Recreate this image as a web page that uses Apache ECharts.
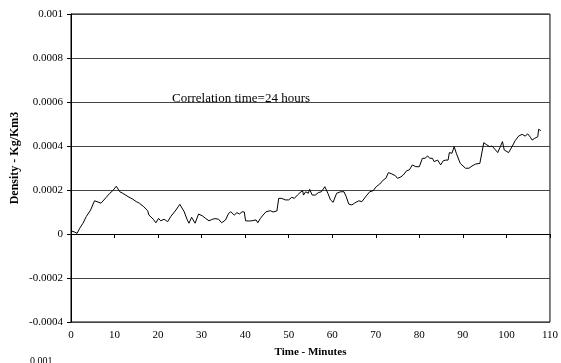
<!DOCTYPE html>
<html>
<head>
<meta charset="utf-8">
<script src="https://cdn.jsdelivr.net/npm/echarts@6/dist/echarts.min.js"></script>
<style>
html,body{margin:0;padding:0;background:#fff;}
#chart{width:561px;height:363px;}
</style>
</head>
<body>
<div id="chart"></div>
<script>
// Time in minutes
var times = [0,0.7,1.4,2.0,2.75,3.5,4.5,5.4,6.9,8.1,8.9,9.6,10.4,11.2,11.9,13.1,14.2,15.0,15.7,16.7,17.6,
  17.9,18.9,19.5,20.1,20.6,21.4,22.2,22.9,24.1,25.0,26.0,26.7,27.1,27.7,28.5,29.3,30.2,30.9,31.7,32.5,33.1,33.9,34.6,35.5,
  36.2,36.7,37.5,38.1,38.7,39.3,39.8,40.1,40.8,41.5,41.9,42.5,42.9,43.5,44.1,44.8,45.8,46.4,47.3,47.7,48.4,49.2,50.0,50.7,51.3,52.0,52.6,53.2,
  53.4,53.9,54.5,54.8,55.4,56.1,56.8,57.5,58.3,59.0,59.6,60.2,61.0,61.9,62.7,63.2,63.8,64.5,65.1,66.1,66.8,67.8,68.6,69.4,70.1,70.9,
  71.7,72.3,72.9,73.7,74.5,75.0,75.8,76.3,77.1,77.7,78.4,79.2,80.0,80.7,81.3,81.9,82.4,83.0,83.4,84.2,84.6,84.9,85.5,86.1,86.6,86.9,87.5,88.0,88.5,89.1,
  89.4,90.6,91.4,92.1,92.9,93.9,94.8,95.5,96.2,96.7,97.5,98.0,98.6,99.1,99.5,100.5,101.3,102.0,102.8,103.6,104.3,104.9,105.5,105.9,106.5,107.2,107.4,107.9];
// Density in Kg/Km3
var density = [0.000014,0.00001,0.000003,0.000026,0.000049,0.000079,0.000109,0.000151,0.00014,0.000167,0.000185,0.000197,0.000217,0.000192,0.000185,0.00017,0.000158,0.000147,0.00014,0.000124,0.000106,
  0.000086,0.000067,0.000051,0.000071,0.00006,0.000067,0.000056,0.000079,0.000109,0.000135,0.000101,0.000064,0.000049,0.000076,0.000049,0.000091,0.000082,0.000071,0.00006,0.000067,0.00007,0.000067,0.000051,0.000064,
  0.000094,0.000101,0.000086,0.000097,0.000091,0.000101,0.0001,0.00006,0.000059,0.00006,0.000051,0.000064,0.000051,0.000071,0.000086,0.000101,0.000106,0.0001,0.000105,0.000162,0.000162,0.000155,0.000155,0.000167,0.000162,0.000177,0.000188,0.000197,
  0.000177,0.000192,0.000185,0.000203,0.000177,0.000177,0.000188,0.000192,0.000215,0.000185,0.000155,0.000144,0.000185,0.000192,0.000192,0.00017,0.000136,0.000132,0.00014,0.000151,0.000147,0.000173,0.000192,0.000197,0.000215,0.000227,
  0.000245,0.000253,0.000279,0.000273,0.000265,0.000253,0.00026,0.000268,0.000288,0.000291,0.000314,0.000306,0.000306,0.000344,0.000344,0.000355,0.000344,0.000344,0.000329,0.000336,0.000329,0.000314,0.000333,0.000336,0.000336,0.00037,0.000367,0.000397,0.000367,0.000336,
  0.000321,0.000299,0.000299,0.000309,0.000318,0.000321,0.000415,0.000405,0.000397,0.0004,0.000382,0.00037,0.000397,0.00042,0.000382,0.00037,0.000397,0.000424,0.000445,0.000453,0.000445,0.000455,0.00044,0.000427,0.000435,0.000442,0.000476,0.00047];

var xTicks = {min: 0, max: 110, interval: 10};
var yTicks = {min: -0.0004, max: 0.001, interval: 0.0002};
var annotation = 'Correlation time=24 hours';
var xTitle = 'Time - Minutes';
var yTitle = 'Density - Kg/Km3';

var pts = times.map(function (t, i) { return [t, density[i]]; });
var font = 'Liberation Serif';

var chart = echarts.init(document.getElementById('chart'), null, {renderer: 'canvas'});
chart.setOption({
  animation: false,
  backgroundColor: '#fff',
  grid: {left: 71, right: 10, top: 14, bottom: 41, show: true, borderColor: '#000', borderWidth: 1},
  xAxis: {
    type: 'value', min: xTicks.min, max: xTicks.max, interval: xTicks.interval,
    name: xTitle, nameLocation: 'middle', nameGap: 25,
    nameTextStyle: {fontFamily: font, fontSize: 11, fontWeight: 'bold', color: '#000'},
    axisLine: {show: true, lineStyle: {color: '#000', width: 1}},
    axisTick: {show: true, length: 4, lineStyle: {color: '#000'}},
    axisLabel: {fontFamily: font, fontSize: 11, color: '#000', margin: 8},
    splitLine: {show: false}
  },
  yAxis: {
    type: 'value', min: yTicks.min, max: yTicks.max, interval: yTicks.interval,
    axisLine: {show: true, onZero: false, lineStyle: {color: '#000', width: 1}},
    axisTick: {show: true, length: 4, lineStyle: {color: '#000'}},
    axisLabel: {fontFamily: font, fontSize: 11, color: '#000', margin: 8,
      formatter: function (v) { return String(Number(v.toFixed(4))); }},
    splitLine: {show: true, lineStyle: {color: '#444', width: 1}}
  },
  series: [{
    type: 'line', data: pts, symbol: 'none', silent: true,
    lineStyle: {color: '#000', width: 1}
  }],
  graphic: [
    {type: 'text', left: 172, top: 92, style: {text: annotation, font: '13px "Liberation Serif"', fill: '#000'}},
    {type: 'text', x: 15, y: 158, rotation: Math.PI / 2,
      style: {text: yTitle, font: 'bold 12px "Liberation Serif"', fill: '#000', align: 'center', verticalAlign: 'middle'}},
    {type: 'text', left: 30, top: 356, style: {text: '0.001', font: '10px "Liberation Serif"', fill: '#000'}}
  ]
});
</script>
</body>
</html>
